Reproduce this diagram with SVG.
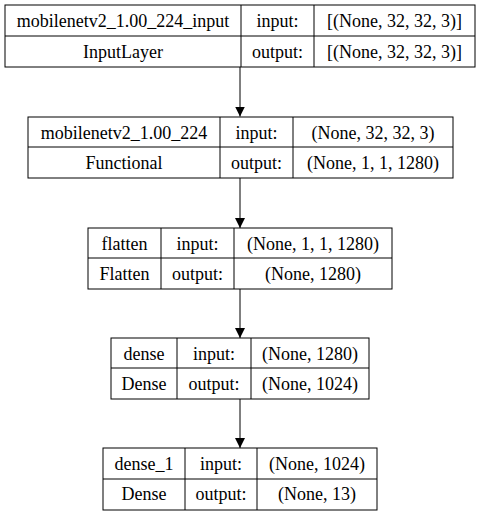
<svg xmlns="http://www.w3.org/2000/svg" width="480" height="516" viewBox="0 0 480 516" font-family="'Liberation Serif', 'Times New Roman', Times, serif">
<style>
rect.b{fill:#fff;stroke:#000;stroke-width:1}
line.d{stroke:#000;stroke-width:1}
text{font-size:18px;fill:#000;text-anchor:middle}
.e{stroke:#000;stroke-width:1;fill:none}
</style>
<defs>
<marker id="ah" markerWidth="10" markerHeight="14" refX="10" refY="5" orient="auto" markerUnits="userSpaceOnUse">
<path d="M0,0 L10,5 L0,10 Z" fill="#000"/>
</marker>
</defs>
<rect width="480" height="516" fill="#fff"/>
<g id="edges">
<line class="e" x1="240" y1="67" x2="240" y2="116.5" marker-end="url(#ah)"/>
<line class="e" x1="240" y1="178" x2="240" y2="228" marker-end="url(#ah)"/>
<line class="e" x1="240" y1="289" x2="240" y2="338" marker-end="url(#ah)"/>
<line class="e" x1="240" y1="399" x2="240" y2="448" marker-end="url(#ah)"/>
</g>
<g id="n1">
<rect class="b" x="5" y="5" width="470" height="62"/>
<line class="d" x1="5" y1="36" x2="475" y2="36"/>
<line class="d" x1="241" y1="5" x2="241" y2="67"/>
<line class="d" x1="314" y1="5" x2="314" y2="67"/>
<text x="123" y="27">mobilenetv2_1.00_224_input</text>
<text x="123" y="58">InputLayer</text>
<text x="277.5" y="27">input:</text>
<text x="277.5" y="58">output:</text>
<text x="394.5" y="27">[(None, 32, 32, 3)]</text>
<text x="394.5" y="58">[(None, 32, 32, 3)]</text>
</g>
<g id="n2">
<rect class="b" x="28" y="117" width="425" height="61"/>
<line class="d" x1="28" y1="147" x2="453" y2="147"/>
<line class="d" x1="220" y1="117" x2="220" y2="178"/>
<line class="d" x1="293" y1="117" x2="293" y2="178"/>
<text x="124" y="139">mobilenetv2_1.00_224</text>
<text x="124" y="169">Functional</text>
<text x="256.5" y="139">input:</text>
<text x="256.5" y="169">output:</text>
<text x="373" y="139">(None, 32, 32, 3)</text>
<text x="373" y="169">(None, 1, 1, 1280)</text>
</g>
<g id="n3">
<rect class="b" x="88" y="228" width="304" height="61"/>
<line class="d" x1="88" y1="258" x2="392" y2="258"/>
<line class="d" x1="161" y1="228" x2="161" y2="289"/>
<line class="d" x1="234" y1="228" x2="234" y2="289"/>
<text x="124.5" y="250">flatten</text>
<text x="124.5" y="280">Flatten</text>
<text x="197.5" y="250">input:</text>
<text x="197.5" y="280">output:</text>
<text x="313" y="250">(None, 1, 1, 1280)</text>
<text x="313" y="280">(None, 1280)</text>
</g>
<g id="n4">
<rect class="b" x="111" y="338" width="258" height="61"/>
<line class="d" x1="111" y1="368" x2="369" y2="368"/>
<line class="d" x1="177" y1="338" x2="177" y2="399"/>
<line class="d" x1="251" y1="338" x2="251" y2="399"/>
<text x="144" y="360">dense</text>
<text x="144" y="390">Dense</text>
<text x="214" y="360">input:</text>
<text x="214" y="390">output:</text>
<text x="310" y="360">(None, 1280)</text>
<text x="310" y="390">(None, 1024)</text>
</g>
<g id="n5">
<rect class="b" x="103" y="448" width="274" height="62"/>
<line class="d" x1="103" y1="479" x2="377" y2="479"/>
<line class="d" x1="185" y1="448" x2="185" y2="510"/>
<line class="d" x1="257" y1="448" x2="257" y2="510"/>
<text x="144" y="470">dense_1</text>
<text x="144" y="500">Dense</text>
<text x="221" y="470">input:</text>
<text x="221" y="500">output:</text>
<text x="317" y="470">(None, 1024)</text>
<text x="317" y="500">(None, 13)</text>
</g>
</svg>
